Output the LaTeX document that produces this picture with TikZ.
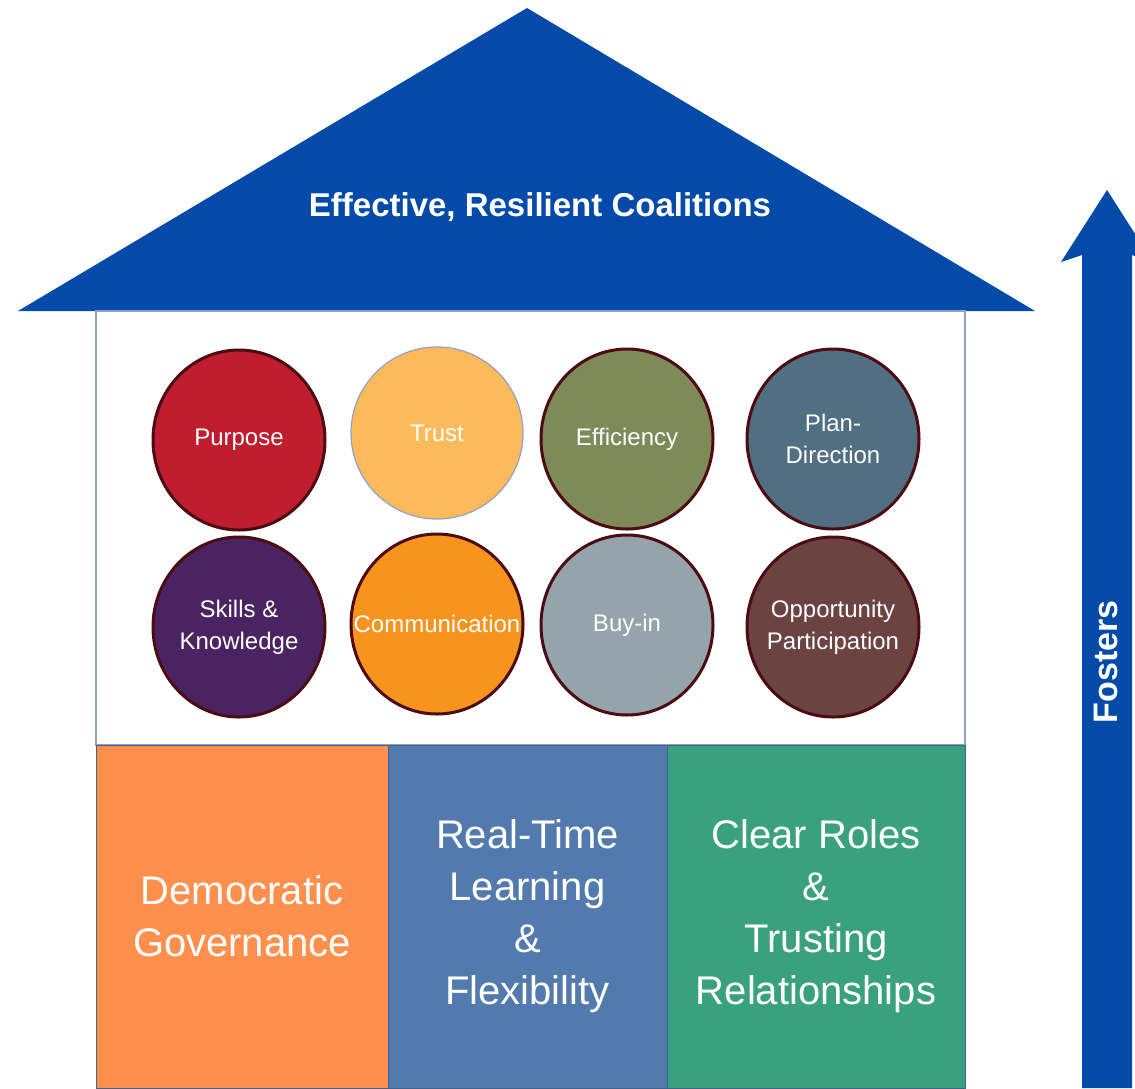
\documentclass[tikz,border=0pt]{standalone}
\usepackage{fontspec}
\setmainfont{Liberation Sans}
\usetikzlibrary{positioning,shapes.geometric}

\definecolor{roofblue}{HTML}{044AA8}
\definecolor{wallline}{HTML}{8FA1C9}
\definecolor{rimred}{HTML}{4D0B12}
\definecolor{purposered}{HTML}{BE1E2D}
\definecolor{trustyellow}{HTML}{FDBA5B}
\definecolor{effgreen}{HTML}{7E8A58}
\definecolor{planblue}{HTML}{506F82}
\definecolor{skillpurple}{HTML}{4A2462}
\definecolor{commorange}{HTML}{F7941E}
\definecolor{buygrey}{HTML}{95A3AA}
\definecolor{oppbrown}{HTML}{6B4442}
\definecolor{demorange}{HTML}{FF8F4C}
\definecolor{learnblue}{HTML}{527AAF}
\definecolor{rolegreen}{HTML}{3AA17F}

\begin{document}
\begin{tikzpicture}[x=0.5pt, y=-0.5pt,
    disc/.style={ellipse, draw=rimred, line width=1.5pt, minimum width=86pt, minimum height=90pt, inner sep=0pt,
        label={[text=white, align=center, font=\fontsize{12}{16}\selectfont]center:#1}},
    pillar/.style={rectangle, draw=learnblue!80!black, line width=0.4pt, minimum height=171.5pt, inner sep=0pt, text=white, align=center, font=\fontsize{20}{26}\selectfont}]

\useasboundingbox (0,0) rectangle (1135,1088);

% Roof
\fill[roofblue] (18,311) -- (527,8) -- (1035,311) -- cycle;
\node[text=white, font=\bfseries\fontsize{16.5}{20}\selectfont] (coalitions) at (540,207) {Effective, Resilient Coalitions};

% Walls
\draw[wallline, line width=0.6pt] (96,311) rectangle (965,745);

% Ingredients (top row)
\node[disc=Purpose, fill=purposered] (purpose) at (239,440) {};
\node[disc=Trust, fill=trustyellow, draw=wallline, line width=0.6pt, minimum height=86pt] (trust) at (437,433) {};
\node[disc=Efficiency, fill=effgreen] (efficiency) at (627,439) {};
\node[disc={Plan-\\Direction}, fill=planblue] (plan) at (833,439) {};

% Ingredients (bottom row)
\node[disc={Skills \&\\Knowledge}, fill=skillpurple] (skills) at (239,627) {};
\node[disc=Communication, fill=commorange] (communication) at (437,624) {};
\node[disc=Buy-in, fill=buygrey] (buyin) at (627,625) {};
\node[disc={Opportunity\\Participation}, fill=oppbrown] (opportunity) at (833,627) {};

% Pillars
\node[pillar, fill=demorange, minimum width=146pt] (democratic) at (242,916.5) {Democratic\\Governance};
\node[pillar, fill=learnblue, minimum width=139.5pt] (learning) at (527.5,916.5) {Real-Time\\Learning\\\&\\Flexibility};
\node[pillar, fill=rolegreen, minimum width=149pt] (roles) at (816,916.5) {Clear Roles\\\&\\Trusting\\Relationships};

% Fosters arrow
\fill[roofblue] (1082,1088) -- (1082,255) -- (1061,262) -- (1107,190) -- (1153,262) -- (1132,255) -- (1132,1088) -- cycle;
\node[rotate=90, text=white, font=\bfseries\fontsize{17}{20}\selectfont] (fosters) at (1106,662) {Fosters};

\end{tikzpicture}
\end{document}
